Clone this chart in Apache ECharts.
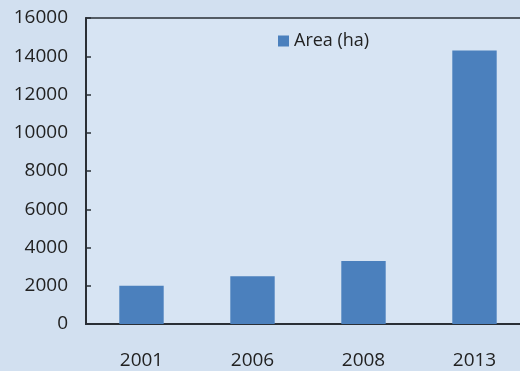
<!DOCTYPE html>
<html>
<head>
<meta charset="utf-8">
<script src="https://cdn.jsdelivr.net/npm/echarts@6/dist/echarts.min.js"></script>
<style>
  html, body { margin: 0; padding: 0; background: #d2e0f0; overflow: hidden; }
  #chart { width: 530px; height: 371px; }
</style>
</head>
<body>
<div id="chart"></div>
<script>
// Cultivated area by survey year
const years = ['2001', '2006', '2008', '2013'];
const areaHa = [2000, 2500, 3300, 14300];
const seriesName = 'Area (ha)';

const chart = echarts.init(document.getElementById('chart'));
const textColor = '#222';
const axisColor = '#2a2f36';
const fontFamily = '"Open Sans", "Noto Sans", sans-serif';

chart.setOption({
  backgroundColor: '#d2e0f0',
  animation: false,
  grid: {
    left: 86, top: 18, right: 0, bottom: 47,
    show: true,
    backgroundColor: '#d7e4f3',
    borderColor: axisColor,
    borderWidth: 1.5
  },
  legend: {
    data: [seriesName],
    left: 273, top: 27,
    itemWidth: 11, itemHeight: 11,
    icon: 'rect',
    itemGap: 6,
    textStyle: { color: textColor, fontSize: 18, fontFamily: fontFamily }
  },
  xAxis: {
    type: 'category',
    data: years,
    axisLine: { lineStyle: { color: axisColor, width: 2 } },
    axisTick: { inside: true, length: 6, lineStyle: { color: axisColor, width: 1.5 } },
    axisLabel: { color: textColor, fontSize: 19, fontFamily: fontFamily, margin: 27 },
    splitLine: { show: false }
  },
  yAxis: {
    type: 'value',
    min: 0, max: 16000, interval: 2000,
    axisLine: { show: true, lineStyle: { color: axisColor, width: 2 } },
    axisTick: { show: true, inside: true, length: 5, lineStyle: { color: axisColor, width: 1.5 } },
    axisLabel: {
      color: textColor, fontSize: 19, fontFamily: fontFamily, margin: 18,
      formatter: v => String(v)
    },
    splitLine: { show: false }
  },
  series: [{
    name: seriesName,
    type: 'bar',
    data: areaHa,
    barWidth: '40%',
    itemStyle: { color: '#4b80bd' }
  }]
});
</script>
</body>
</html>
